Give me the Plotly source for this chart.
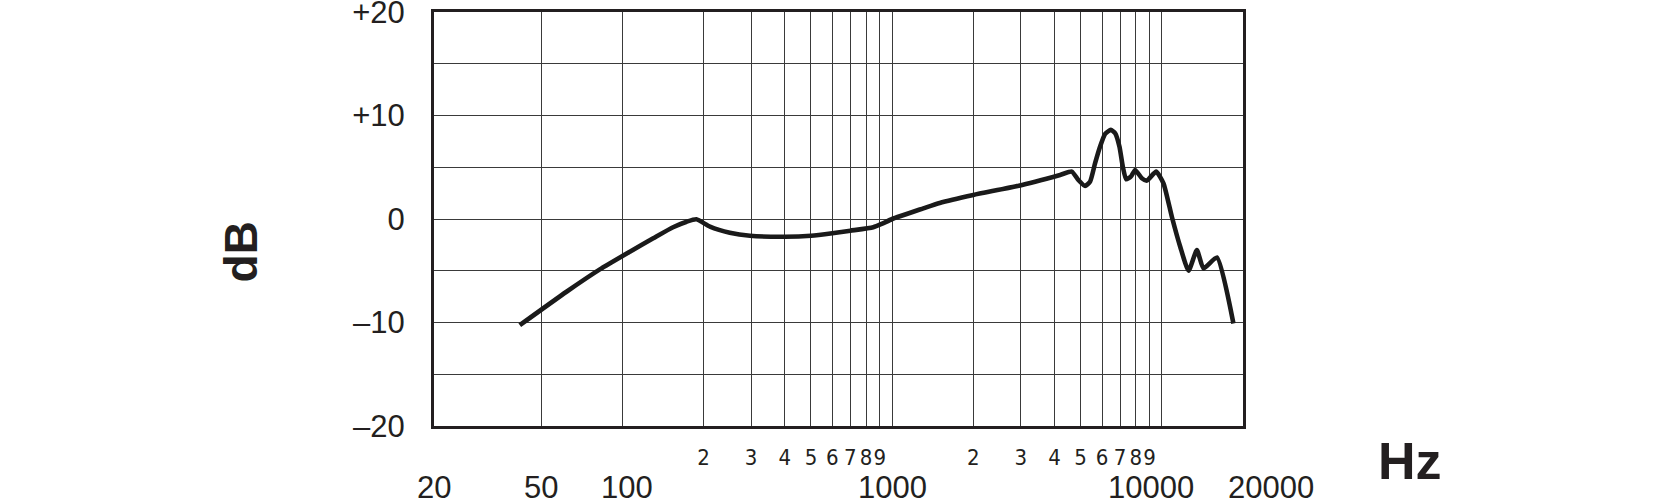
import math
import plotly.graph_objects as go

# Frequency response data (Hz, dB)
freq_hz = [41.6, 62.0, 82.4, 106.5, 130, 154, 173, 188, 211, 250, 297, 400, 500,
           600, 700, 851, 914, 1000, 1305, 1500, 2000, 2950, 4196, 4635, 4904,
           5194, 5421, 5657, 5904, 6163, 6470, 6714, 6963, 7166, 7373, 7674,
           7963, 8431, 8800, 9528, 10143, 10893, 11700, 12565, 13490, 14270,
           16010, 18430]
level_db = [-10.26, -7.03, -4.87, -3.16, -1.87, -0.8, -0.26, -0.03, -0.74, -1.33, -1.62, -1.71, -1.62,
            -1.38, -1.13, -0.8, -0.48, 0.0, 1.03, 1.55, 2.32, 3.22, 4.26, 4.58, 3.77,
            3.19, 3.61, 5.39, 7.0, 8.22, 8.61, 8.29, 7.0, 5.06, 3.84, 4.09,
            4.74, 3.94, 3.71, 4.58, 3.45, 0.22, -2.68, -5.0, -3.0, -4.77,
            -3.71, -10.1]

# Grid / tick definitions
x_grid_vals = [50, 100, 200, 300, 400, 500, 600, 700, 800, 900, 1000,
               2000, 3000, 4000, 5000, 6000, 7000, 8000, 9000, 10000]
x_grid_text = ["", "", "2", "3", "4", "5", "6", "7", "8", "9", "",
               "2", "3", "4", "5", "6", "7", "8", "9", ""]
x_major_vals = [20, 50, 100, 1000, 10000, 20000]
x_major_text = ["20", "50", "100", "1000", "10000", "20000"]
x_major_shift = [0, 0, 5, 0, -11, 28]
y_tick_vals = [-20, -15, -10, -5, 0, 5, 10, 15, 20]
y_tick_text = ["\u201320", "", "\u201310", "", "0", "", "+10", "", "+20"]

INK = "#231f20"
GRID = "#3a3a3a"
FONT = "Liberation Sans, Arial, sans-serif"
NARROW = "Liberation Sans Narrow, DejaVu Sans Condensed, sans-serif"

fig = go.Figure()
fig.add_trace(go.Scatter(x=freq_hz, y=level_db, mode="lines",
                         line=dict(color="#1a1a1a", width=4.6, shape="spline", smoothing=0.5),
                         hoverinfo="skip", showlegend=False))

fig.update_xaxes(type="log", range=[math.log10(20), math.log10(20000)],
                 tickvals=x_grid_vals, ticktext=x_grid_text, tickangle=0,
                 showgrid=True, gridcolor=GRID, gridwidth=1.2,
                 ticks="outside", ticklen=10, tickcolor="rgba(0,0,0,0)",
                 tickfont=dict(family=NARROW, size=22, color=INK),
                 ticklabeloverflow="allow", automargin=False,
                 showline=True, linecolor=INK, linewidth=3, mirror=True,
                 zeroline=False, fixedrange=True)
fig.update_yaxes(range=[-20, 20], tickvals=y_tick_vals, ticktext=y_tick_text,
                 showgrid=True, gridcolor=GRID, gridwidth=1.2,
                 ticks="outside", ticklen=20, tickcolor="rgba(0,0,0,0)",
                 tickfont=dict(family=FONT, size=31, color=INK),
                 ticklabeloverflow="allow", automargin=False,
                 showline=True, linecolor=INK, linewidth=3, mirror=True,
                 zeroline=False, fixedrange=True)

for v, t, s in zip(x_major_vals, x_major_text, x_major_shift):
    fig.add_annotation(x=math.log10(v), y=-0.1476, xref="x", yref="paper",
                       text=t, showarrow=False, xanchor="center", yanchor="middle",
                       xshift=s, font=dict(family=FONT, size=31, color=INK))

fig.add_annotation(x=1.207, y=-0.0847, xref="paper", yref="paper", text="<b>Hz</b>",
                   showarrow=False, xanchor="center", yanchor="middle",
                   font=dict(family=FONT, size=52, color=INK))
fig.add_annotation(x=-0.2382, y=0.42, xref="paper", yref="paper", text="<b>dB</b>",
                   showarrow=False, xanchor="center", yanchor="middle", textangle=-90,
                   font=dict(family=FONT, size=46, color=INK))

fig.update_layout(width=1674, height=500,
                  margin=dict(l=434, r=431, t=12, b=74, autoexpand=False),
                  paper_bgcolor="white", plot_bgcolor="white",
                  showlegend=False)

fig.write_html("out.html", config={"displayModeBar": False},
               post_script="document.body.style.margin='0';document.body.style.overflow='hidden';")
